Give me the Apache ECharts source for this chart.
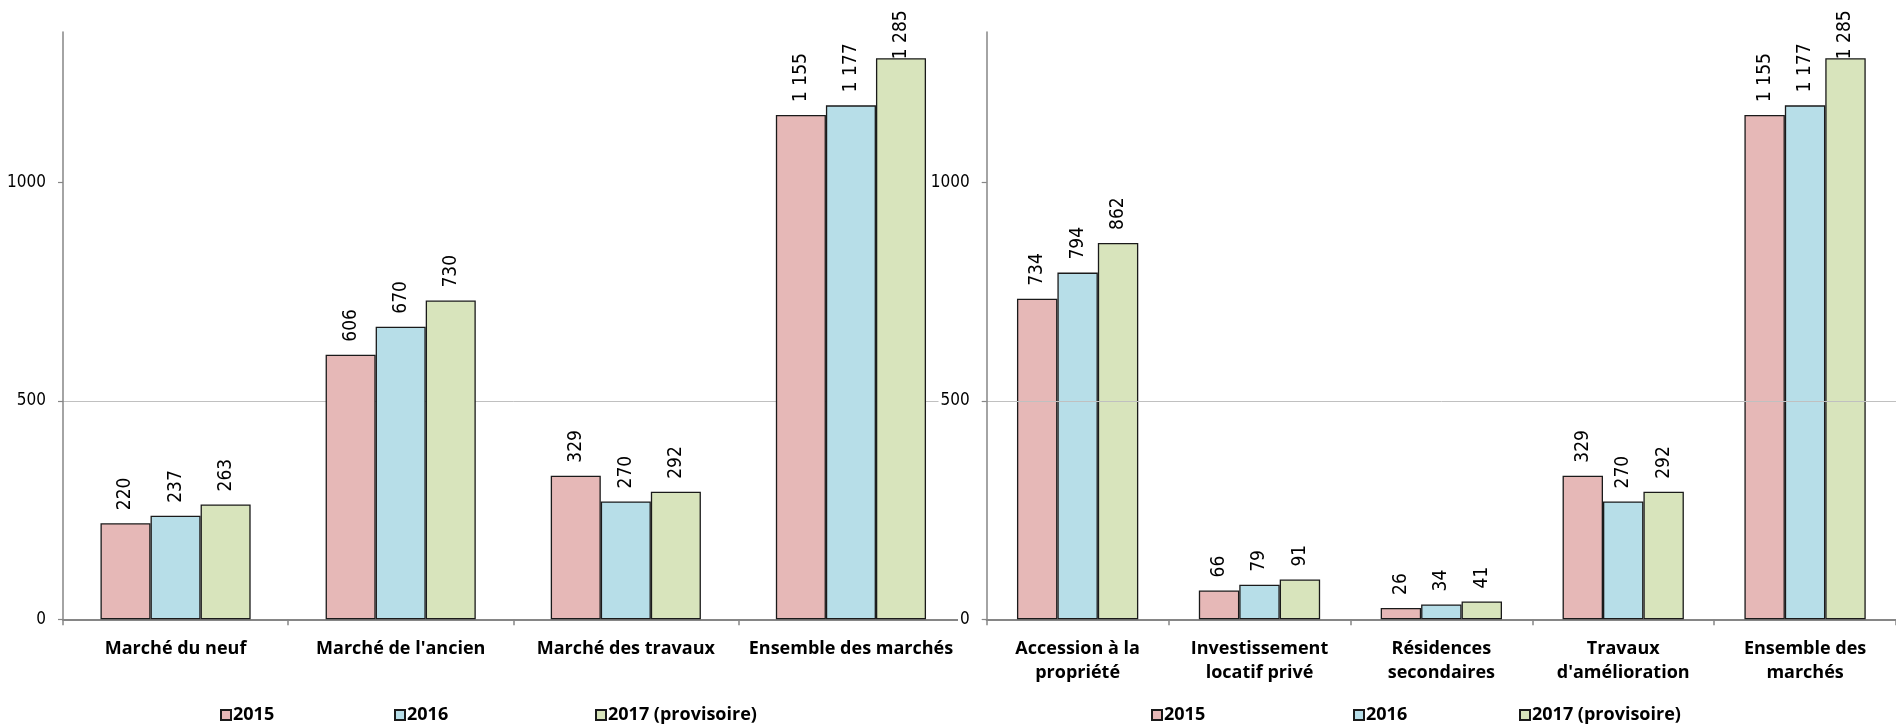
<!DOCTYPE html>
<html>
<head>
<meta charset="utf-8">
<script src="https://cdn.jsdelivr.net/npm/echarts@6/dist/echarts.min.js"></script>
<style>
  html, body { margin: 0; padding: 0; background: #fff; }
  #chart { width: 1896px; height: 727px; }
</style>
</head>
<body>
<div id="chart"></div>
<script>
// Years shown in both panels
const seriesNames = ['2015', '2016', '2017 (provisoire)'];

// Left panel: by market
const marketCategories = ['Marché du neuf', "Marché de l'ancien", 'Marché des travaux', 'Ensemble des marchés'];
const market2015 = [220, 606, 329, 1155];
const market2016 = [237, 670, 270, 1177];
const market2017 = [263, 730, 292, 1285];

// Right panel: by segment
const segmentCategories = ['Accession à la\npropriété', 'Investissement\nlocatif privé', 'Résidences\nsecondaires', "Travaux\nd'amélioration", 'Ensemble des\nmarchés'];
const segment2015 = [734, 66, 26, 329, 1155];
const segment2016 = [794, 79, 34, 270, 1177];
const segment2017 = [862, 91, 41, 292, 1285];

// Value axis
const yTicks = [0, 500, 1000];
const yMax = 1345;

const colors = ['#e6b8b7', '#b7dee8', '#d8e4bc'];
const axisGrey = '#868686';
const narrowFont = "'Liberation Sans Narrow', 'Arial Narrow', 'DejaVu Sans Condensed', 'Liberation Sans', sans-serif";

function fmt(v) {
  return String(v).replace(/\B(?=(\d{3})+(?!\d))/g, ' ');
}

function xAxis(gridIndex, data) {
  return {
    type: 'category', gridIndex, data,
    axisLine: { lineStyle: { color: axisGrey, width: 2 } },
    axisTick: { show: true, length: 6, alignWithLabel: false, lineStyle: { color: axisGrey, width: 1.5 } },
    axisLabel: {
      interval: 0, margin: 18, color: '#000',
      fontFamily: 'Open Sans', fontWeight: 'bold', fontSize: 18, lineHeight: 24
    }
  };
}

function yAxis(gridIndex, opaque) {
  return {
    type: 'value', gridIndex, min: 0, max: yMax, interval: 500, z: opaque ? 6 : 2,
    axisLine: { show: true, lineStyle: { color: axisGrey, width: 1.5 } },
    axisTick: { show: true, length: 5, customValues: yTicks, lineStyle: { color: axisGrey, width: 1.2 } },
    axisLabel: {
      customValues: yTicks, margin: opaque ? 15 : 17, color: '#000',
      formatter: v => String(v),
      fontFamily: narrowFont, fontSize: 17,
      backgroundColor: opaque ? '#fff' : 'transparent',
      padding: opaque ? [1, 2, 1, 2] : 0
    },
    splitLine: { show: true, showMinLine: false, showMaxLine: false, lineStyle: { color: '#c0c0c0', width: 1 } }
  };
}

// labels of bars taller than this are pulled down so they stay inside the chart area
const labelClampValue = 1250;

function barSeries(name, data, axisIndex, color) {
  return {
    type: 'bar', name, xAxisIndex: axisIndex, yAxisIndex: axisIndex,
    data: data.map(v => (v > labelClampValue ? { value: v, label: { distance: -1 } } : v)),
    barGap: '0%', barCategoryGap: '33.3%',
    itemStyle: { color, borderColor: '#1a1a1a', borderWidth: 1.3 },
    label: {
      show: true, position: 'top', rotate: 90, align: 'left', verticalAlign: 'middle', distance: 13,
      formatter: p => fmt(p.value),
      fontFamily: narrowFont, fontSize: 19, color: '#000'
    },
    emphasis: { disabled: true }
  };
}

const legendX = [[220, 394, 595], [1151, 1353, 1519]];
const legends = [];
legendX.forEach(row => row.forEach((x, i) => {
  legends.push({
    data: [seriesNames[i]], left: x, top: 706, padding: 0, itemGap: 0,
    itemWidth: 10, itemHeight: 10, icon: 'rect', selectedMode: false,
    textStyle: { fontFamily: 'Open Sans', fontWeight: 'bold', fontSize: 18, color: '#000', padding: [0, 0, 0, -3] }
  });
}));

const chart = echarts.init(document.getElementById('chart'), null, { renderer: 'canvas' });
chart.setOption({
  animation: false,
  backgroundColor: '#fff',
  grid: [
    { left: 63, top: 32, width: 900.5, height: 587.3 },
    { left: 986.7, top: 32, width: 928, height: 587.3 }
  ],
  legend: legends,
  xAxis: [xAxis(0, marketCategories), xAxis(1, segmentCategories)],
  yAxis: [yAxis(0, false), yAxis(1, true)],
  series: [
    barSeries(seriesNames[0], market2015, 0, colors[0]),
    barSeries(seriesNames[1], market2016, 0, colors[1]),
    barSeries(seriesNames[2], market2017, 0, colors[2]),
    barSeries(seriesNames[0], segment2015, 1, colors[0]),
    barSeries(seriesNames[1], segment2016, 1, colors[1]),
    barSeries(seriesNames[2], segment2017, 1, colors[2])
  ]
});
</script>
</body>
</html>
